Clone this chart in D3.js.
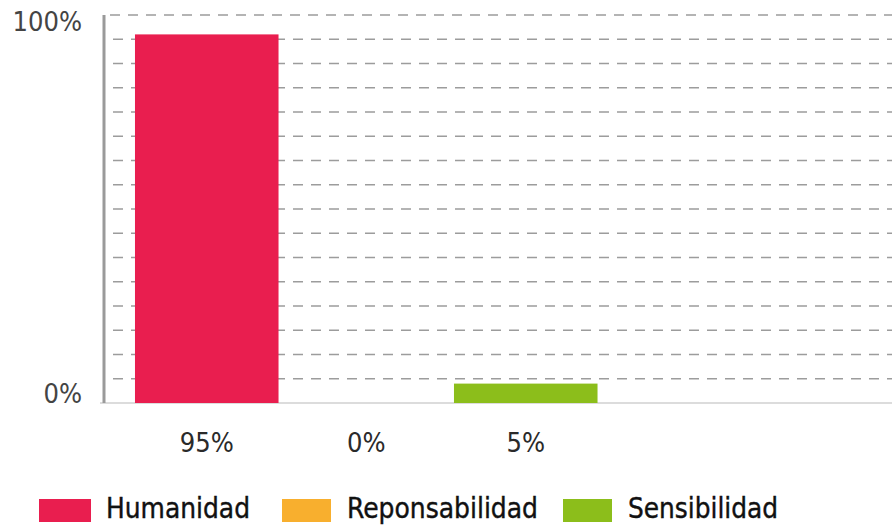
<!DOCTYPE html>
<html>
<head>
<meta charset="utf-8">
<script src="https://cdn.jsdelivr.net/npm/d3@7"></script>
<style>
  html, body { margin: 0; padding: 0; background: #fff; }
  svg { display: block; }
</style>
</head>
<body>
<svg id="chart" width="892" height="529"></svg>
<script>
// Chart data
const categories = ["Humanidad", "Reponsabilidad", "Sensibilidad"];
const values = [95, 0, 5];
const valueLabels = ["95%", "0%", "5%"];
const colors = ["#E91E4F", "#F8AF2E", "#8CBE1B"];
const yTickLabels = ["0%", "100%"];
const yTickValues = [0, 100];
const gridValues = d3.range(6.25, 100.01, 6.25);

const svg = d3.select("#chart");
const W = 892;
const FONT = "'Liberation Sans Narrow', 'DejaVu Sans Condensed', sans-serif";

const y = d3.scaleLinear().domain([0, 100]).range([403, 15]);
const x = d3.scaleBand()
  .domain(categories)
  .range([127, 605.5])
  .paddingInner(0.1)
  .paddingOuter(0.05);

// dashed horizontal grid
svg.append("g")
  .selectAll("line")
  .data(gridValues)
  .join("line")
  .attr("x1", d => d === 100 ? 110 : 113)
  .attr("x2", W)
  .attr("y1", d => y(d))
  .attr("y2", d => y(d))
  .attr("stroke", "#9c9c9c")
  .attr("stroke-width", 1.5)
  .attr("stroke-dasharray", "10,8");

// baseline
svg.append("line")
  .attr("x1", 100).attr("x2", W)
  .attr("y1", y(0)).attr("y2", y(0))
  .attr("stroke", "#d0d0d0")
  .attr("stroke-width", 1.5);

// vertical axis line
svg.append("line")
  .attr("x1", 104).attr("x2", 104)
  .attr("y1", y(100)).attr("y2", y(0))
  .attr("stroke", "#9a9a9a")
  .attr("stroke-width", 3);

// y labels
svg.append("g")
  .selectAll("text")
  .data(yTickValues)
  .join("text")
  .attr("x", 82)
  .attr("y", d => d === 100 ? y(d) + 16 : y(d))
  .attr("text-anchor", "end")
  .attr("font-family", FONT)
  .attr("font-size", 27)
  .attr("fill", "#444")
  .text((d, i) => yTickLabels[i]);

// bars
svg.append("g")
  .selectAll("rect")
  .data(categories)
  .join("rect")
  .attr("x", d => x(d))
  .attr("width", x.bandwidth())
  .attr("y", (d, i) => y(values[i]))
  .attr("height", (d, i) => y(0) - y(values[i]))
  .attr("fill", (d, i) => colors[i]);

// value labels under bars
svg.append("g")
  .selectAll("text")
  .data(categories)
  .join("text")
  .attr("x", d => x(d) + x.bandwidth() / 2)
  .attr("y", 452)
  .attr("text-anchor", "middle")
  .attr("font-family", FONT)
  .attr("font-size", 27)
  .attr("fill", "#2a2a2a")
  .text((d, i) => valueLabels[i]);

// legend
const legendLayout = [
  { sx: 39, sw: 52, tx: 106, tw: 144 },
  { sx: 282, sw: 49, tx: 347, tw: 191 },
  { sx: 563, sw: 49, tx: 628, tw: 150 }
];
const legend = svg.append("g");
categories.forEach((c, i) => {
  const L = legendLayout[i];
  legend.append("rect")
    .attr("x", L.sx).attr("y", 499)
    .attr("width", L.sw).attr("height", 23)
    .attr("fill", colors[i]);
  legend.append("text")
    .attr("x", L.tx).attr("y", 518)
    .attr("font-family", FONT)
    .attr("font-size", 29)
    .attr("fill", "#111")
    .attr("stroke", "#111")
    .attr("stroke-width", 0.4)
    .attr("textLength", L.tw)
    .attr("lengthAdjust", "spacingAndGlyphs")
    .text(c);
});
</script>
</body>
</html>
